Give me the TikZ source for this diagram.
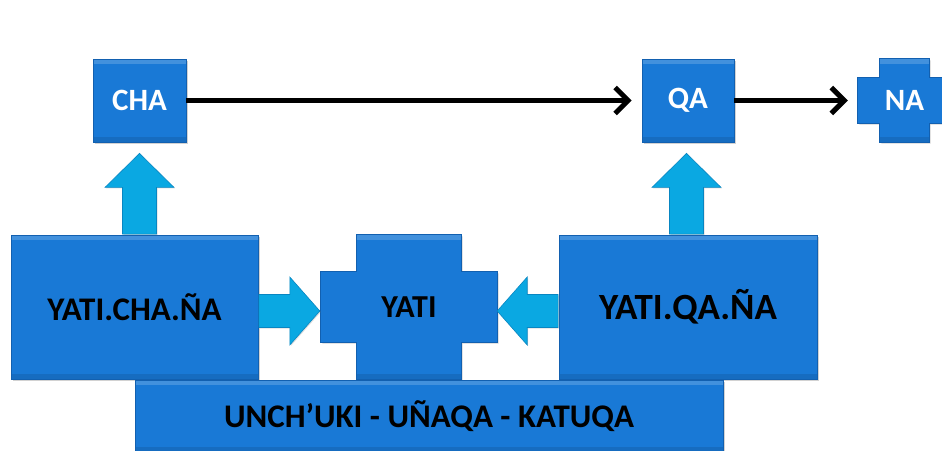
\documentclass[tikz,border=0pt]{standalone}
\usepackage{fontspec}
\setmainfont{Carlito}
\usetikzlibrary{arrows.meta,calc,backgrounds,shadows}
\definecolor{boxblue}{RGB}{25,121,214}
\definecolor{boxedge}{RGB}{18,96,176}
\definecolor{arrblue}{RGB}{10,168,226}
\definecolor{arredge}{RGB}{8,134,194}
\tikzset{
  boxfill/.style={fill=boxblue, draw=boxedge, line width=0.8pt,
    drop shadow={shadow xshift=1.5pt, shadow yshift=-1.5pt, opacity=.35},
    path picture={\fill[white,opacity=.18] (path picture bounding box.north west) rectangle ($(path picture bounding box.north east)+(0,5)$);
                  \fill[black,opacity=.10] (path picture bounding box.south west) rectangle ($(path picture bounding box.south east)+(0,-5)$);}},
  box/.style={rectangle, boxfill, inner sep=0pt},
  crossbox/.style={rectangle, inner sep=0pt},
  whitelbl/.style={text=white, font=\bfseries\fontsize{31}{31}\selectfont},
  blacklbl/.style={text=black, font=\bfseries\fontsize{#1}{#1}\selectfont},
  barrow/.style={fill=arrblue, draw=arredge, line width=0.6pt,
    drop shadow={shadow xshift=1pt, shadow yshift=-1pt, opacity=.25}},
  flow/.style={line width=5pt, -{Straight Barb[length=13pt,width=26pt,line width=5pt]}}
}
% cross outline around a rectangular node #1 with insets #2 (x) and #3 (y)
\newcommand\crosspath[3]{%
  ($(#1.north west)+(#2,0)$) -- ($(#1.north east)+(-#2,0)$) -- ($(#1.north east)+(-#2,#3)$) --
  ($(#1.north east)+(0,#3)$) -- ($(#1.south east)+(0,-#3)$) -- ($(#1.south east)+(-#2,-#3)$) --
  ($(#1.south east)+(-#2,0)$) -- ($(#1.south west)+(#2,0)$) -- ($(#1.south west)+(#2,-#3)$) --
  ($(#1.south west)+(0,-#3)$) -- ($(#1.north west)+(0,#3)$) -- ($(#1.north west)+(#2,#3)$) -- cycle}
% upward block arrow from #1 (bottom of shaft) to #2 (tip)
\newcommand\uparr[2]{%
  \path[barrow] ($(#1)+(-17,0)$) -- ($(#2)+(-17,34)$) -- ($(#2)+(-34.5,34)$) -- (#2) --
    ($(#2)+(34.5,34)$) -- ($(#2)+(17,34)$) -- ($(#1)+(17,0)$) -- cycle;}
% horizontal block arrow from #1 (shaft end) to #2 (tip); #3 = +1 rightwards, -1 leftwards
\newcommand\harr[3]{%
  \path[barrow] ($(#1)+(0,-16.5)$) -- ($(#2)+(-30*#3,-16.5)$) -- ($(#2)+(-30*#3,-34)$) -- (#2) --
    ($(#2)+(-30*#3,34)$) -- ($(#2)+(-30*#3,16.5)$) -- ($(#1)+(0,16.5)$) -- cycle;}
\begin{document}
\begin{tikzpicture}[x=1pt,y=-1pt]
\useasboundingbox (0,0) rectangle (942,450);

% top row
\node[box, whitelbl, minimum width=93pt, minimum height=83pt] (cha) at (139.5,100.5) {CHA};
\node[box, whitelbl, minimum width=92pt, minimum height=83pt] (qa) at (688,100.5) {QA};
\node[crossbox, whitelbl, minimum width=93pt, minimum height=83pt] (na) at (904.5,100.5) {NA};

% middle row
\node[box, blacklbl=33, minimum width=247pt, minimum height=144pt] (ycn) at (134.5,307) {YATI.CHA.ÑA};
\node[crossbox, blacklbl=32, minimum width=176pt, minimum height=144pt] (yati) at (409,307) {YATI};
\node[box, blacklbl=37, minimum width=258pt, minimum height=144pt] (yqn) at (688,307) {YATI.QA.ÑA};

\begin{scope}[on background layer]
  \fill[white] (0,0) rectangle (942,450);
  \path[boxfill] \crosspath{na}{22}{19};
  \path[boxfill] \crosspath{yati}{36}{37};
\end{scope}

% bottom bar
\node[box, blacklbl=33, minimum width=588pt, minimum height=72pt] (bar) at (429,416) {UNCH’UKI - UÑAQA - KATUQA};

% block arrows
\uparr{$(cha.south |- ycn.north)+(0,-0.5)$}{$(cha.south)+(0,11)$}
\uparr{$(qa.south |- yqn.north)+(-1.5,-0.5)$}{$(qa.south)+(-1.5,11)$}
\harr{$(ycn.east)+(0.5,4)$}{$(yati.west)+(-1,4)$}{1}
\harr{$(yqn.west)+(-0.5,4)$}{$(yati.east)+(0,4)$}{-1}

% black connectors
\draw[flow] (cha.east) -- ($(qa.west)+(-10,0)$);
\draw[flow] (qa.east) -- ($(na.west)+(-10,0)$);
\end{tikzpicture}
\end{document}
